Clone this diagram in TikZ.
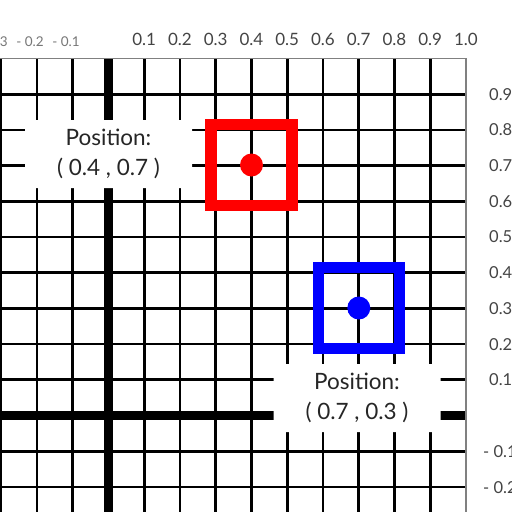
\documentclass[tikz,border=0pt]{standalone}
\usepackage{fontspec}
\setmainfont{Lato}
\definecolor{axgray}{HTML}{444444}
\definecolor{axlight}{HTML}{777777}
\begin{document}
\begin{tikzpicture}[x=1pt,y=-1pt,
  thinline/.style={black,line width=2.7pt},
  thickline/.style={black,line width=9pt},
  border/.style={gray,line width=1.5pt},
  poslabel/.style={fill=white,rounded corners=3pt,minimum width=167pt,minimum height=68pt,align=center,inner sep=0pt,font=\fontsize{22.5}{30}\selectfont,text=black!85},
  marksq/.style={draw=#1,line width=11.5pt,minimum size=81pt,inner sep=0pt},
  markdot/.style={circle,fill=#1,minimum size=23pt,inner sep=0pt},
  toplab/.style={font=\fontsize{17}{17}\selectfont,text=axgray,inner sep=0pt},
  leftlab/.style={font=\fontsize{13.5}{13.5}\selectfont,text=axlight,inner sep=0pt},
  rightlab/.style={font=\fontsize{16.5}{16.5}\selectfont,text=axgray,inner sep=0pt,anchor=west}]
\useasboundingbox (0,0) rectangle (512,512);
\fill[white] (0,0) rectangle (512,512);
% grid
\foreach \i in {-3,-2,-1,1,2,3,4,5,6,7,8,9}
  \draw[thinline] ({108.4+\i*35.75},58.5) -- ({108.4+\i*35.75},512);
\foreach \j in {-2,-1,1,2,3,4,5,6,7,8,9}
  \draw[thinline] (0,{415.5-\j*35.7}) -- (465.9,{415.5-\j*35.7});
\draw[thickline] (108.4,58.5) -- (108.4,512);
\draw[thickline] (0,415.5) -- (465.9,415.5);
\draw[border] (0,58.5) -- (465.9,58.5) -- (465.9,512);
% axis labels
\foreach \v [count=\k] in {0.1,0.2,0.3,0.4,0.5,0.6,0.7,0.8,0.9,1.0}
  \node[toplab] (t\k) at ({108.4+\k*35.75},39) {\v};
\node[leftlab] (l1) at (66,42) {- 0.1};
\node[leftlab] (l2) at (30,42) {- 0.2};
\node[leftlab] (l3) at (-6,42) {- 0.3};
\foreach \v [count=\k] in {0.1,0.2,0.3,0.4,0.5,0.6,0.7,0.8,0.9}
  \node[rightlab] (r\k) at (489,{415.5-\k*35.7}) {\v};
\node[rightlab] (rm1) at (483,451.5) {- 0.1};
\node[rightlab] (rm2) at (483,487.5) {- 0.2};
% markers
\node[marksq=red] (sqA) at (251.5,165) {};
\node[markdot=red] (dotA) at (251.5,165) {};
\node[marksq=blue] (sqB) at (358.8,308) {};
\node[markdot=blue] (dotB) at (358.8,308) {};
% labels
\node[poslabel] (labA) at (108.5,154) {Position:\\( 0.4 , 0.7 )};
\node[poslabel] (labB) at (357,398) {Position:\\( 0.7 , 0.3 )};
\end{tikzpicture}
\end{document}
